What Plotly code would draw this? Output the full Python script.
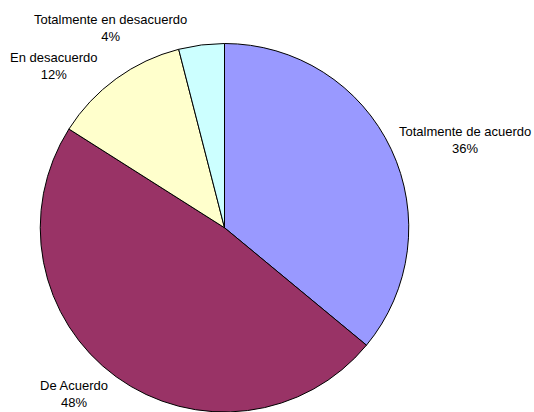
import plotly.graph_objects as go

labels = ["Totalmente de acuerdo", "De Acuerdo", "En desacuerdo", "Totalmente en desacuerdo"]
values = [36, 48, 12, 4]
colors = ["#9999FF", "#993366", "#FFFFCC", "#CCFFFF"]
# label anchor positions (pixels in 534x412 canvas)
label_px = [(465, 140), (74, 394), (53, 66), (110, 27.5)]

W, H = 534, 412
total = sum(values)

fig = go.Figure(go.Pie(
    labels=labels, values=values, sort=False, direction="clockwise", rotation=0,
    marker=dict(colors=colors, line=dict(color="black", width=1)),
    textinfo="none", hoverinfo="label+percent",
    domain=dict(x=[39.5 / W, 409.5 / W], y=[0, 1 - 43.5 / H]),
))

annotations = []
for lab, v, (px, py) in zip(labels, values, label_px):
    annotations.append(dict(
        text=f"{lab}<br>{round(v / total * 100)}%",
        x=px / W, y=1 - py / H, xref="paper", yref="paper",
        xanchor="center", yanchor="middle", showarrow=False, align="center",
        font=dict(family="Liberation Sans, Arial", size=13, color="black"),
    ))

fig.update_layout(
    width=W, height=H, margin=dict(l=0, r=0, t=0, b=0),
    paper_bgcolor="white", plot_bgcolor="white", showlegend=False,
    annotations=annotations,
)
fig.write_html("out.html", config={"displayModeBar": False},
               post_script="document.body.style.margin='0';document.body.style.overflow='hidden';")
